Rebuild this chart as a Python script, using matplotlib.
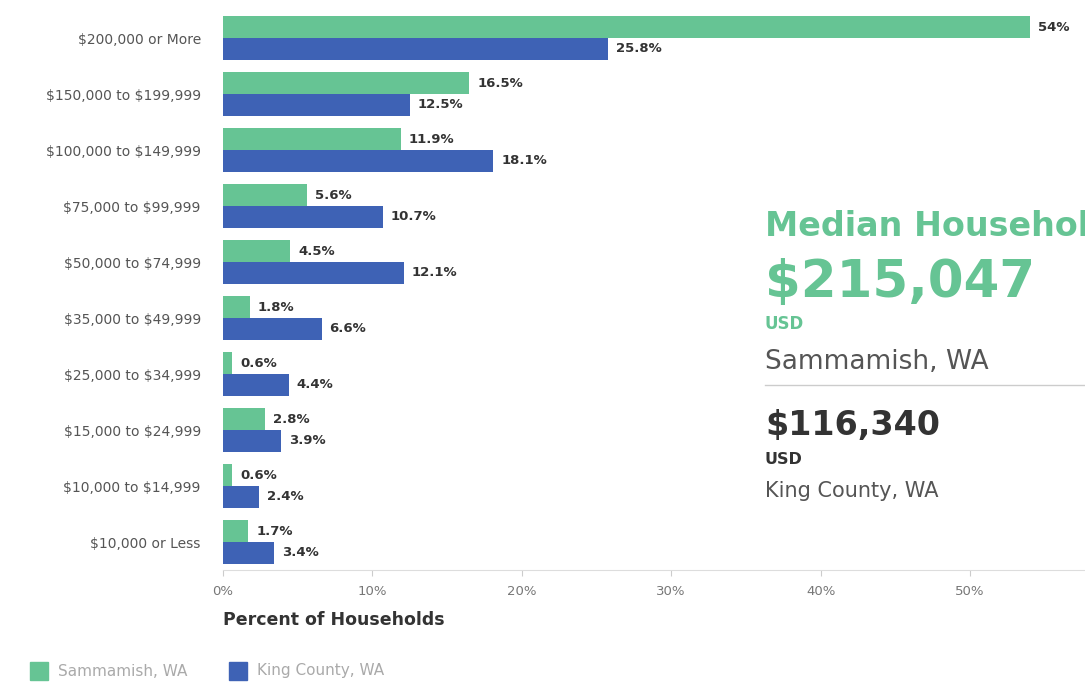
import matplotlib
matplotlib.use("Agg")
import matplotlib.pyplot as plt
import numpy as np

categories = ["$200,000 or More", "$150,000 to $199,999", "$100,000 to $149,999",
              "$75,000 to $99,999", "$50,000 to $74,999", "$35,000 to $49,999",
              "$25,000 to $34,999", "$15,000 to $24,999", "$10,000 to $14,999",
              "$10,000 or Less"]
sammamish = [54, 16.5, 11.9, 5.6, 4.5, 1.8, 0.6, 2.8, 0.6, 1.7]
king = [25.8, 12.5, 18.1, 10.7, 12.1, 6.6, 4.4, 3.9, 2.4, 3.4]
sam_labels = ["54%", "16.5%", "11.9%", "5.6%", "4.5%", "1.8%", "0.6%", "2.8%", "0.6%", "1.7%"]
king_labels = ["25.8%", "12.5%", "18.1%", "10.7%", "12.1%", "6.6%", "4.4%", "3.9%", "2.4%", "3.4%"]
xticks = [0, 10, 20, 30, 40, 50]
xtick_labels = ["0%", "10%", "20%", "30%", "40%", "50%"]

GREEN = "#66C494"
BLUE = "#3E62B5"
DARK = "#333333"
GREY = "#555555"

plt.rcParams['font.family'] = ['DejaVu Sans']
plt.rcParams['text.parse_math'] = False

fig = plt.figure(figsize=(10.85, 6.83), dpi=100)
ax = fig.add_axes([223/1085, 1 - 570/683, 1 - 223/1085, 560/683])

n = len(categories)
y = np.arange(n)[::-1]
h = 0.39
ax.barh(y + h/2, sammamish, height=h, color=GREEN, label="Sammamish, WA")
ax.barh(y - h/2, king, height=h, color=BLUE, label="King County, WA")

for yi, v, lab in zip(y, sammamish, sam_labels):
    ax.annotate(lab, (v, yi + h/2), xytext=(8, 0), textcoords="offset pixels",
                va="center", ha="left", fontsize=9.5, fontweight="bold", color=DARK)
for yi, v, lab in zip(y, king, king_labels):
    ax.annotate(lab, (v, yi - h/2), xytext=(8, 0), textcoords="offset pixels",
                va="center", ha="left", fontsize=9.5, fontweight="bold", color=DARK)

ax.set_xlim(0, 57.7)
ax.set_ylim(-0.5, n - 0.5)
ax.set_yticks(y)
ax.set_yticklabels(categories, fontsize=10, color=GREY)
ax.set_xticks(xticks)
ax.set_xticklabels(xtick_labels, fontsize=9.5, color="#777777")
ax.tick_params(axis="y", length=0, pad=16)
ax.tick_params(axis="x", length=4, color="#cccccc", pad=7)
for s in ["top", "right", "left"]:
    ax.spines[s].set_visible(False)
ax.spines["bottom"].set_color("#dddddd")

fig.text(223/1085, 1 - 620/683, "Percent of Households", fontsize=12.5, fontweight="bold",
         color=DARK, va="center", ha="left")

# Legend
fig.patches.append(plt.Rectangle((30/1085, 1 - 680/683), 18/1085, 18/683, transform=fig.transFigure,
                                 color=GREEN, figure=fig))
fig.text(58/1085, 1 - 671/683, "Sammamish, WA", fontsize=11, color="#aaaaaa", va="center")
fig.patches.append(plt.Rectangle((229/1085, 1 - 680/683), 18/1085, 18/683, transform=fig.transFigure,
                                 color=BLUE, figure=fig))
fig.text(257/1085, 1 - 671/683, "King County, WA", fontsize=11, color="#aaaaaa", va="center")

# Right-hand summary
x0 = 765/1085
fig.text(x0, 1 - 226/683, "Median Household Income", fontsize=24, fontweight="bold",
         color=GREEN, va="center", ha="left")
fig.text(x0, 1 - 283/683, "$215,047", fontsize=37, fontweight="bold",
         color=GREEN, va="center", ha="left")
fig.text(x0, 1 - 324/683, "USD", fontsize=12, fontweight="bold",
         color=GREEN, va="center", ha="left")
fig.text(x0, 1 - 362/683, "Sammamish, WA", fontsize=19, color=GREY, va="center", ha="left")
fig.add_artist(plt.Line2D([x0, 1.0], [1 - 385/683, 1 - 385/683], transform=fig.transFigure,
                          color="#cccccc", lw=1))
fig.text(x0, 1 - 425/683, "$116,340", fontsize=24, fontweight="bold",
         color=DARK, va="center", ha="left")
fig.text(x0, 1 - 460/683, "USD", fontsize=11.5, fontweight="bold",
         color=DARK, va="center", ha="left")
fig.text(x0, 1 - 491/683, "King County, WA", fontsize=15, color=GREY, va="center", ha="left")

fig.savefig("out.png", dpi=100)
